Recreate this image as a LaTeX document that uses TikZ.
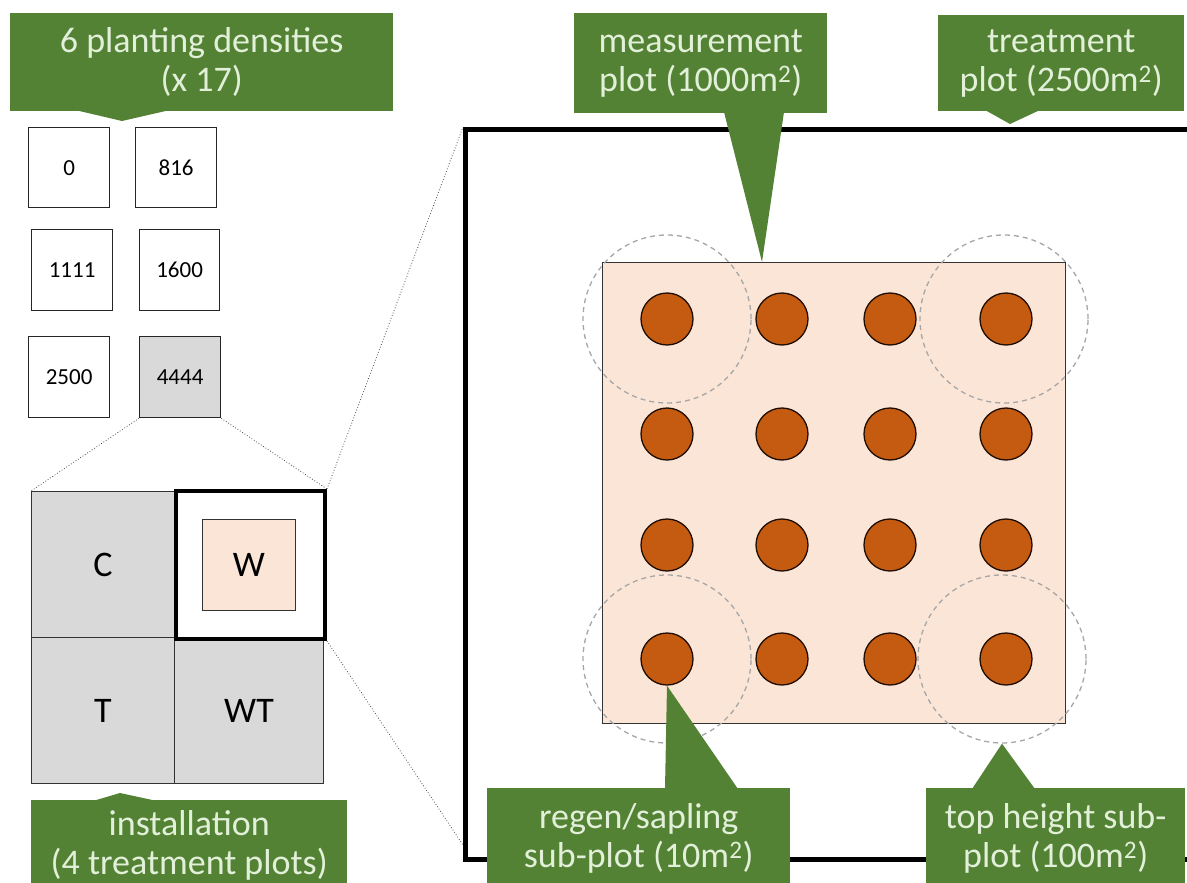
\documentclass[tikz,border=0pt]{standalone}
\usepackage{fontspec}
\setmainfont{Carlito}
\definecolor{cgreen}{HTML}{548235}
\definecolor{ctext}{HTML}{E2F0D9}
\definecolor{cpink}{HTML}{FBE5D6}
\definecolor{ctree}{HTML}{C55A11}
\definecolor{cgray}{HTML}{D9D9D9}
\definecolor{cdash}{HTML}{A6A6A6}
\begin{document}
\begin{tikzpicture}[x=1pt,y=-1pt,
  callout/.style={fill=cgreen, text=ctext, draw=none, inner sep=0pt, align=center,
    anchor=north west, font=\fontsize{36}{39}\selectfont},
  pointer/.style={fill=cgreen, draw=none},
  densbox/.style={draw=black!85, line width=1.3pt, inner sep=0pt, anchor=north west,
    font=\fontsize{23}{26}\selectfont},
  cell/.style={draw=black!80, line width=1pt, fill=cgray, inner sep=0pt, anchor=north west,
    font=\fontsize{36}{40}\selectfont},
  tree/.style={circle, fill=ctree, draw=black!85!ctree, line width=1.3pt, minimum size=52pt, inner sep=0pt},
  subplot/.style={circle, draw=cdash, line width=1.3pt, dash pattern=on 5pt off 4pt, minimum size=168pt, inner sep=0pt},
  zoomline/.style={draw=black!70, line width=0.8pt, dotted}
]
\useasboundingbox (0,0) rectangle (1187,883);
\clip (0,0) rectangle (1187,883);

% density boxes
\node[densbox, minimum width=81pt, minimum height=80pt] (d0) at (28,127) {0};
\node[densbox, minimum width=81pt, minimum height=80pt] (d816) at (135,127) {816};
\node[densbox, minimum width=81pt, minimum height=81pt] (d1111) at (31,229) {1111};
\node[densbox, minimum width=80pt, minimum height=81pt] (d1600) at (139,229) {1600};
\node[densbox, minimum width=81pt, minimum height=81pt] (d2500) at (28,336) {2500};
\node[densbox, minimum width=81pt, minimum height=81pt, fill=cgray] (d4444) at (139,336) {4444};

% installation grid
\node[cell, minimum width=143pt, minimum height=146pt] (C) at (31,491) {C};
\node[cell, minimum width=143pt, minimum height=146pt] (T) at (31,637) {T};
\node[cell, minimum width=149pt, minimum height=146pt] (WT) at (174,637) {WT};
\node[draw=black, line width=4pt, fill=white, minimum width=149pt, minimum height=148pt,
  inner sep=0pt, anchor=north west] (W) at (174,489) {};
\node[cell, fill=cpink, minimum width=93pt, minimum height=91pt] (Win) at (202,519) {W};

% treatment plot (big box)
\node[draw=black, line width=4.5pt, minimum width=900pt, minimum height=730pt,
  inner sep=0pt, anchor=north west] (big) at (463,127) {};
\coordinate (bigsw) at (463,845);

% zoom lines
\draw[zoomline] (d4444.south west) -- (C.north west);
\draw[zoomline] (d4444.south east) -- (W.north east);
\draw[zoomline] (W.north east) -- (big.north west);
\draw[zoomline] (W.south east) -- (bigsw);

% measurement plot
\node[draw=black!80, line width=1.2pt, fill=cpink, minimum width=463pt, minimum height=461pt,
  inner sep=0pt, anchor=north west] (plot) at (602,262) {};

% sub-plots
\node[subplot] (sub1) at (667,319) {};
\node[subplot] (sub2) at (1004,319) {};
\node[subplot] (sub3) at (667,659) {};
\node[subplot] (sub4) at (1002,659) {};

% trees
\foreach \y [count=\r] in {319,434,545,659}{
  \foreach \x [count=\c] in {667,782,890,1006}{
    \node[tree] (t\r\c) at (\x,\y) {};
  }
}

% callouts
\node[callout, minimum width=383pt, minimum height=98pt] (dens) at (10,13)
  {6 planting densities\\(x 17)};
\coordinate (denstip) at (122,121);
\fill[pointer] (75,110) -- (denstip) -- (170,110) -- cycle;

\node[callout, minimum width=316pt, minimum height=90pt] (inst) at (31,800)
  {installation\\(4 treatment plots)};
\coordinate (insttip) at (120,793);
\fill[pointer] (93,801) -- (insttip) -- (157,801) -- cycle;

\node[callout, minimum width=253pt, minimum height=100pt] (meas) at (574,13)
  {measurement\\plot (1000m\textsuperscript{2})};
\coordinate (meastip) at (762,262);
\fill[pointer] (724,112) -- (meastip) -- (784,112) -- cycle;

\node[callout, minimum width=246pt, minimum height=96pt] (treat) at (938,15)
  {treatment\\plot (2500m\textsuperscript{2})};
\coordinate (treattip) at (1010,124);
\fill[pointer] (985,110) -- (treattip) -- (1040,110) -- cycle;

\node[callout, minimum width=303pt, minimum height=100pt] (regen) at (487,788)
  {regen/sapling\\sub-plot (10m\textsuperscript{2})};
\fill[pointer] (665,789) -- (t41.south) -- (738,789) -- cycle;

\node[callout, minimum width=259pt, minimum height=100pt] (toph) at (926,788)
  {top height sub-\\plot (100m\textsuperscript{2})};
\fill[pointer] (972,789) -- (sub4.south) -- (1035,789) -- cycle;
\end{tikzpicture}
\end{document}
